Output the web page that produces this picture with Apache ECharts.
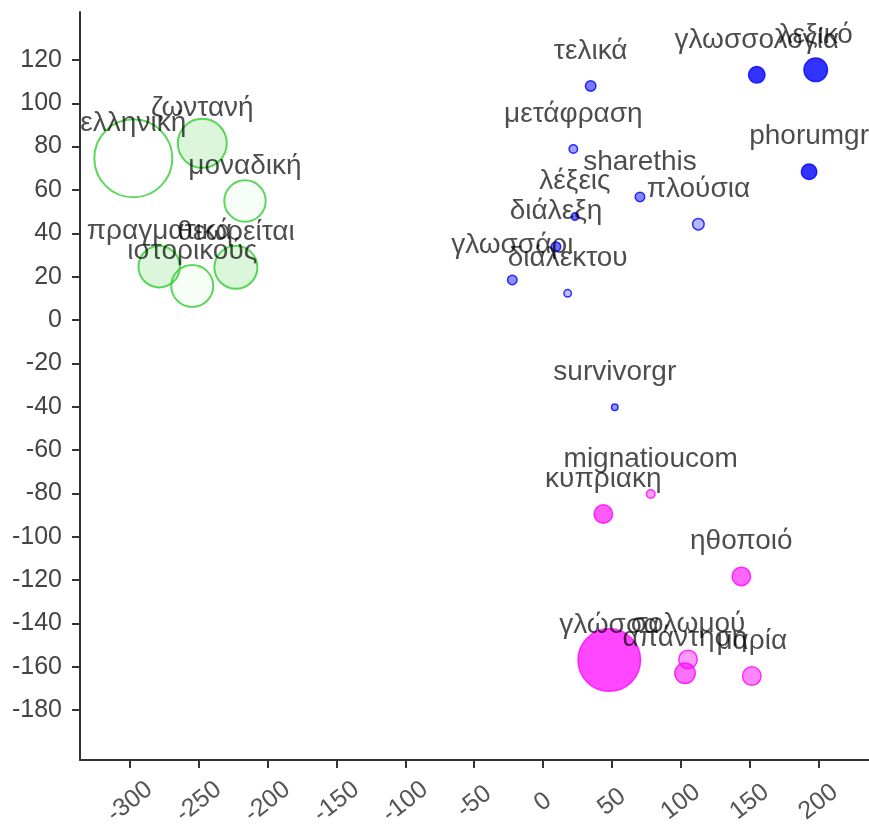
<!DOCTYPE html>
<html>
<head>
<meta charset="utf-8">
<script src="https://cdn.jsdelivr.net/npm/echarts@6/dist/echarts.min.js"></script>
<style>
  html, body { margin: 0; padding: 0; background: #ffffff; }
  #chart { width: 869px; height: 824px; }
</style>
</head>
<body>
<div id="chart"></div>
<script>
// ---- data ----
const greenNames  = ['ελληνική', 'ζωντανή', 'μοναδική', 'πραγματικά', 'ιστορικούς', 'θεωρείται'];
const greenX      = [-297.5, -247.4, -216.4, -278.7, -254.7, -223.0];
const greenY      = [74.6, 81.5, 54.9, 24.6, 15.7, 24.3];
const greenSize   = [40, 25.5, 21.7, 21.7, 22, 22.5];
const greenWeight = [0.0, 0.22, 0.05, 0.22, 0.05, 0.22];

const blueNames  = ['τελικά', 'μετάφραση', 'sharethis', 'λέξεις', 'πλούσια', 'διάλεξη',
                    'γλωσσάρι', 'διάλεκτου', 'survivorgr', 'γλωσσολογία', 'λεξικό', 'phorumgr'];
const blueX      = [34.6, 22.0, 70.4, 23.2, 112.8, 9.4, -22.3, 17.9, 52.1, 155.2, 198.0, 193.2];
const blueY      = [108.0, 78.9, 56.8, 47.7, 44.2, 33.8, 18.5, 12.3, -40.3, 113.1, 115.4, 68.4];
const blueSize   = [6, 5, 5.5, 4.5, 6.5, 5.5, 5.5, 4.5, 4, 9, 12.5, 8.5];
const blueWeight = [0.65, 0.45, 0.6, 0.7, 0.35, 0.7, 0.55, 0.3, 0.5, 1, 1, 1];

const pinkNames  = ['mignatioucom', 'κυπριακη', 'ηθοποιό', 'γλώσσα', 'σολωμού', 'απάντηση', 'μαρία'];
const pinkX      = [78.2, 43.8, 144.0, 48.1, 105.3, 103.1, 151.6];
const pinkY      = [-80.3, -89.5, -118.3, -156.9, -156.6, -163.0, -164.3];
const pinkSize   = [5, 10, 10, 32, 10, 11, 10];
const pinkWeight = [0.45, 0.8, 0.75, 0.9, 0.5, 0.7, 0.6];

const xTicks = [-300, -250, -200, -150, -100, -50, 0, 50, 100, 150, 200];
const yTicks = [-180, -160, -140, -120, -100, -80, -60, -40, -20, 0, 20, 40, 60, 80, 100, 120];

// ---- styling ----
const FONT = '"Liberation Sans", Arial, sans-serif';

function buildSeries(names, xs, ys, sizes, weights, rgb, strokeW) {
  const data = names.map((n, i) => ({
    name: n,
    value: [xs[i], ys[i], sizes[i]],
    itemStyle: {
      color: 'rgba(' + rgb + ',' + weights[i] + ')',
      borderColor: 'rgb(' + rgb + ')',
      borderWidth: strokeW
    }
  }));
  return {
    type: 'scatter',
    data: data,
    symbol: 'circle',
    symbolSize: (val) => Math.max(2, val[2] * 2 - strokeW),
    label: {
      show: true,
      position: 'inside',
      offset: [0, -35],
      formatter: (p) => p.name,
      fontFamily: FONT,
      fontSize: 28,
      color: 'rgba(0,0,0,0.88)',
      align: 'center',
      verticalAlign: 'middle'
    },
    emphasis: { disabled: true },
    animation: false
  };
}

const chart = echarts.init(document.getElementById('chart'), null, { renderer: 'canvas' });
chart.setOption({
  backgroundColor: '#ffffff',
  animation: false,
  grid: {
    left: 80, top: 12, right: 0, bottom: 64,
    containLabel: false,
    outerBoundsMode: 'none'
  },
  xAxis: {
    type: 'value',
    min: -336.2,
    max: 236.7,
    splitLine: { show: false },
    axisLine: { show: true, onZero: false, lineStyle: { color: '#333', width: 2 } },
    axisTick: { show: true, length: 8, lineStyle: { color: '#333', width: 2 }, customValues: xTicks },
    axisLabel: {
      customValues: xTicks,
      rotate: 38,
      align: 'center',
      verticalAlign: 'middle',
      margin: 42,
      fontFamily: FONT,
      fontSize: 25,
      color: '#555'
    }
  },
  yAxis: {
    type: 'value',
    min: -203,
    max: 142.1,
    splitLine: { show: false },
    axisLine: { show: true, onZero: false, lineStyle: { color: '#333', width: 2 } },
    axisTick: { show: true, length: 8, lineStyle: { color: '#333', width: 2 }, customValues: yTicks },
    axisLabel: {
      customValues: yTicks,
      margin: 18,
      fontFamily: FONT,
      fontSize: 25,
      color: '#444'
    }
  },
  series: [
    buildSeries(greenNames, greenX, greenY, greenSize, greenWeight, '50,205,50', 2),
    buildSeries(blueNames, blueX, blueY, blueSize, blueWeight, '0,0,255', 1.5),
    buildSeries(pinkNames, pinkX, pinkY, pinkSize, pinkWeight, '255,0,255', 1.5)
  ]
});
</script>
</body>
</html>
